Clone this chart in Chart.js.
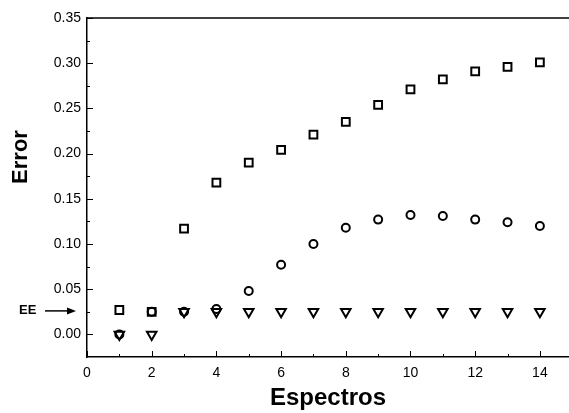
<!DOCTYPE html>
<html>
<head>
<meta charset="utf-8">
<script src="https://cdn.jsdelivr.net/npm/chart.js@4.4.0/dist/chart.umd.min.js"></script>
<style>
  html, body { margin: 0; padding: 0; background: #fff; }
  #wrap { width: 569px; height: 413px; }
</style>
</head>
<body>
<div id="wrap"><canvas id="errorChart"></canvas></div>
<script>
// datos
var espectros = [1, 2, 3, 4, 5, 6, 7, 8, 9, 10, 11, 12, 13, 14];
var serieCuadrados = [0.027, 0.025, 0.117, 0.168, 0.190, 0.204, 0.221, 0.235, 0.254, 0.271, 0.282, 0.291, 0.296, 0.301];
var serieCirculos = [0.000, 0.025, 0.025, 0.028, 0.048, 0.077, 0.100, 0.118, 0.127, 0.132, 0.131, 0.127, 0.124, 0.120];
var serieTriangulos = [0.000, 0.000, 0.025, 0.025, 0.025, 0.025, 0.025, 0.025, 0.025, 0.025, 0.025, 0.025, 0.025, 0.025];
var xTicks = [0, 2, 4, 6, 8, 10, 12, 14];
var yTicks = [0.00, 0.05, 0.10, 0.15, 0.20, 0.25, 0.30, 0.35];
var etiquetaEE = 'EE';
var valorEE = 0.026;

function puntos(ys) {
    return espectros.map(function(x, i) { return { x: x, y: ys[i] }; });
}

// ticks hacia adentro, borde superior, flecha EE y titulo del eje y
var marcoPlugin = {
    id: 'marco',
    afterDraw: function(chart) {
        var ctx = chart.ctx;
        var a = chart.chartArea;
        var sx = chart.scales.x;
        var sy = chart.scales.y;
        ctx.save();
        ctx.strokeStyle = '#000';
        ctx.lineWidth = 1.5;
        ctx.beginPath();
        ctx.moveTo(a.left, a.top);
        ctx.lineTo(a.right, a.top);
        ctx.stroke();

        ctx.lineWidth = 1;
        ctx.beginPath();
        for (var v = 0; v <= 14; v++) {
            var px = Math.round(sx.getPixelForValue(v)) + 0.5;
            var len = (v % 2 === 0) ? 6 : 3;
            ctx.moveTo(px, a.bottom);
            ctx.lineTo(px, a.bottom - len);
        }
        for (var k = 0; k <= 14; k++) {
            var val = k * 0.025;
            var py = Math.round(sy.getPixelForValue(val)) + 0.5;
            var l = (k % 2 === 0) ? 6 : 3;
            ctx.moveTo(a.left, py);
            ctx.lineTo(a.left + l, py);
        }
        ctx.stroke();

        // flecha EE
        var ye = sy.getPixelForValue(valorEE);
        ctx.fillStyle = '#000';
        ctx.font = 'bold 13px "Liberation Sans", Arial, sans-serif';
        ctx.textAlign = 'left';
        ctx.textBaseline = 'middle';
        ctx.fillText(etiquetaEE, 19, ye);
        ctx.lineWidth = 1.5;
        ctx.beginPath();
        ctx.moveTo(45, ye);
        ctx.lineTo(70, ye);
        ctx.stroke();
        ctx.beginPath();
        ctx.moveTo(76, ye);
        ctx.lineTo(67, ye - 3.5);
        ctx.lineTo(67, ye + 3.5);
        ctx.closePath();
        ctx.fill();

        // titulo eje y
        ctx.translate(21, 157);
        ctx.rotate(-Math.PI / 2);
        ctx.textAlign = 'center';
        ctx.textBaseline = 'middle';
        ctx.font = 'bold 22px "Liberation Sans", Arial, sans-serif';
        ctx.fillText('Error', 0, 0);
        ctx.restore();
    }
};

var ctx = document.getElementById('errorChart').getContext('2d');
var comun = {
    borderColor: '#000',
    backgroundColor: 'rgba(0,0,0,0)',
    pointBorderWidth: 2,
    showLine: false
};

var chart = new Chart(ctx, {
    type: 'scatter',
    data: {
        datasets: [
            Object.assign({ label: 'triangulos', data: puntos(serieTriangulos), pointStyle: 'triangle', rotation: 180, pointRadius: 5.5 }, comun),
            Object.assign({ label: 'circulos', data: puntos(serieCirculos), pointStyle: 'circle', pointRadius: 4 }, comun),
            Object.assign({ label: 'cuadrados', data: puntos(serieCuadrados), pointStyle: 'rect', pointRadius: 5.5 }, comun)
        ]
    },
    options: {
        responsive: true,
        maintainAspectRatio: false,
        animation: false,
        layout: { autoPadding: false, padding: { top: 18, right: 0, left: 0, bottom: 0 } },
        plugins: {
            legend: { display: false },
            tooltip: { enabled: false }
        },
        scales: {
            x: {
                type: 'linear',
                min: 0,
                max: 14.9,
                afterBuildTicks: function(scale) {
                    scale.ticks = xTicks.map(function(v) { return { value: v }; });
                },
                afterFit: function(scale) {
                    scale.height = 56;
                    scale.paddingLeft = 0;
                    scale.paddingRight = 0;
                },
                grid: { display: true, drawOnChartArea: false, drawTicks: false },
                border: { display: true, color: '#000', width: 1.5 },
                ticks: {
                    color: '#000',
                    padding: 8,
                    maxRotation: 0,
                    font: { family: '"Liberation Sans", Arial, sans-serif', size: 14 }
                },
                title: {
                    display: true,
                    text: 'Espectros',
                    color: '#000',
                    padding: { top: 2, bottom: 0 },
                    font: { family: '"Liberation Sans", Arial, sans-serif', size: 24, weight: 'bold' }
                }
            },
            y: {
                type: 'linear',
                min: -0.025,
                max: 0.35,
                afterBuildTicks: function(scale) {
                    scale.ticks = yTicks.map(function(v) { return { value: v }; });
                },
                afterFit: function(scale) {
                    scale.width = 87;
                    scale.paddingTop = 0;
                    scale.paddingBottom = 0;
                },
                grid: { display: true, drawOnChartArea: false, drawTicks: false },
                border: { display: true, color: '#000', width: 1.5 },
                ticks: {
                    color: '#000',
                    padding: 6,
                    font: { family: '"Liberation Sans", Arial, sans-serif', size: 14 },
                    callback: function(v) { return v.toFixed(2); }
                }
            }
        }
    },
    plugins: [marcoPlugin]
});
</script>
</body>
</html>
